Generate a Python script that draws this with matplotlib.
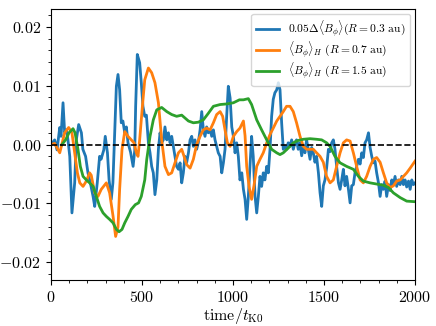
import matplotlib
matplotlib.use("Agg")
import matplotlib.pyplot as plt
from matplotlib.ticker import MultipleLocator, FuncFormatter

# --- data ---
t_blue = [0, 20, 33, 48, 55, 66, 75, 85, 93, 103, 115, 130, 139, 152, 167, 175, 190,
          203, 216, 231, 240, 254, 267, 275, 290, 298, 310, 319, 331, 340, 350, 359,
          368, 377, 386, 395, 405, 414, 423, 437, 451, 460, 465, 474, 487, 496, 505,
          515, 524, 535, 544, 553, 562, 571, 581, 590, 599, 608, 617, 626, 636, 645,
          654, 663, 672, 681, 690, 700, 709, 718, 727, 736, 745, 755, 764, 773, 782,
          791, 800, 809, 819, 828, 837, 846, 855, 864, 874, 883, 892, 901, 910, 919,
          929, 938, 947, 956, 965, 974, 984, 993, 1002, 1011, 1020, 1029, 1038, 1048,
          1057, 1066, 1075, 1084, 1093, 1102, 1111, 1121, 1130, 1139, 1148, 1157,
          1166, 1175, 1185, 1194, 1203, 1212, 1221, 1230, 1240, 1249, 1258, 1267,
          1276, 1285, 1294, 1303, 1312, 1322, 1331, 1340, 1349, 1358, 1367, 1377,
          1386, 1395, 1404, 1413, 1423, 1432, 1441, 1450, 1459, 1469, 1478, 1487,
          1496, 1505, 1514, 1524, 1533, 1542, 1551, 1560, 1569, 1579, 1588, 1597,
          1606, 1615, 1624, 1634, 1643, 1652, 1661, 1670, 1679, 1689, 1698, 1707,
          1716, 1725, 1734, 1744, 1753, 1762, 1771, 1780, 1789, 1799, 1808, 1817,
          1826, 1835, 1844, 1854, 1863, 1872, 1881, 1890, 1899, 1909, 1918, 1927,
          1936, 1945, 1954, 1964, 1973, 1982, 1991, 2000]
v_blue = [0.0, 0.0008, -0.0009, 0.0029, 0.0014, 0.0071, 0.002, 0.0025, 0.0008, -0.002,
          -0.0116, -0.0065, 0.0008, 0.0034, 0.002, -0.0008, -0.002,
          -0.0048, -0.0065, -0.0088, -0.0105, -0.0065, -0.002, -0.0025, -0.0009,
          0.0014, -0.0014, -0.006, -0.0093, -0.0065, 0.002, 0.0099,
          0.0119, 0.0093, 0.0037, 0.004, 0.002, 0.003, 0.0003, -0.0013, -0.0037,
          -0.001, 0.0065, 0.0153, 0.0139, 0.0105, 0.0065,
          0.0048, 0.005, 0.0003, -0.0014, -0.0037, -0.0048, -0.0085, -0.006, -0.0008,
          0.002, 0.0003, 0.0008, 0.003, 0.0008, 0.002,
          0.0003, 0.0014, -0.0003, -0.002, -0.0037, -0.0042, -0.0031, -0.0065, -0.0048,
          -0.002, -0.0031, -0.0014, 0.0008, 0.0014, -0.0003,
          0.0008, -0.0008, 0.0003, 0.0025, 0.0056, 0.0025, 0.0014, 0.003, 0.002,
          0.0025, 0.0014, 0.0025, 0.0008, -0.0003, -0.0014,
          -0.002, -0.0048, -0.0031, -0.0008, 0.0048, 0.0099, 0.0079, 0.003, 0.0014,
          -0.0014, 0.0003, -0.002, -0.006, -0.0048,
          -0.0076, -0.0093, -0.0127, -0.0088, -0.0037, 0.0014, -0.002, -0.0088,
          -0.0116, -0.0088, -0.0054, -0.0071,
          -0.0048, -0.006, -0.0037, -0.0048, -0.0008, 0.0048, 0.0077, 0.0088, 0.0093,
          0.0105, 0.0093, 0.0037,
          -0.0008, -0.0003, -0.0008, 0.0003, -0.0003, 0.0008, -0.0008, 0.0003, 0.0008,
          -0.0008, 0.0003, -0.0019,
          -0.0003, -0.0014, 0.0008, -0.0008, -0.0025, -0.0005, -0.0014, -0.003,
          -0.002, -0.0048, -0.0082, -0.0105,
          -0.007, -0.006, -0.004, -0.0008, -0.0012, 0.0003, 0.0008, -0.0008,
          -0.0037, -0.0065, -0.0076, -0.006,
          -0.0042, -0.007, -0.0054, -0.0076, -0.0099, -0.007, -0.0068, -0.0048,
          -0.0037, -0.0025, -0.0033, -0.0014,
          -0.0022, 0.0003, 0.0008, 0.002, -0.0005, -0.002, -0.0031, -0.0028,
          -0.0048, -0.0065, -0.0088, -0.0068,
          -0.0076, -0.0062, -0.0088, -0.0068, -0.0078, -0.006, -0.0068, -0.0054,
          -0.0071, -0.006, -0.0068, -0.0054,
          -0.0068, -0.006, -0.0072, -0.0062, -0.0076, -0.006, -0.0068, -0.0065]

t_orange = [0, 20, 48, 75, 97, 115, 130, 145, 158, 176, 194, 212, 221, 240, 258, 276,
            304, 322, 341, 355, 368, 377, 390, 405, 423, 441, 456, 469, 478, 487, 502,
            515, 535, 553, 571, 590, 608, 626, 645, 663, 681, 700, 718, 731, 745, 764,
            782, 800, 819, 837, 855, 874, 892, 910, 929, 943, 956, 969, 984, 1002,
            1020, 1038, 1057, 1066, 1075, 1088, 1102, 1115, 1130, 1148, 1166, 1185,
            1203, 1221, 1240, 1258, 1276, 1294, 1313, 1331, 1349, 1368, 1386, 1404,
            1423, 1441, 1459, 1478, 1496, 1514, 1533, 1551, 1569, 1588, 1606, 1624,
            1643, 1661, 1679, 1698, 1716, 1734, 1753, 1771, 1789, 1808, 1826, 1844,
            1863, 1881, 1899, 1918, 1936, 1954, 1973, 2000]
v_orange = [0.0, 0.0002, -0.0014, 0.002, 0.0029, 0.002, -0.0014, -0.0048, -0.0065,
            -0.0071, -0.0062, -0.0048, -0.0052, -0.0082, -0.0088, -0.0076,
            -0.0065, -0.0082, -0.0122, -0.0156, -0.014, -0.0076, -0.0008, 0.0022,
            0.0014, 0.0008, 0.0003, -0.0014, -0.002, 0.0008, 0.0065,
            0.011, 0.013, 0.0122, 0.0105, 0.0071, 0.0008, -0.0037, -0.0051, -0.0048,
            -0.0031, -0.0014, -0.0008, -0.002, -0.0034, -0.004,
            -0.0025, 0.0, 0.0014, 0.0025, 0.0028, 0.0025, 0.0037, 0.0051, 0.0056,
            0.0048, 0.0025, 0.0003, -0.0003, 0.0014,
            0.0022, 0.0028, 0.004, 0.0015, -0.0037, -0.0071, -0.0093, -0.007,
            -0.0037, -0.0025, -0.0014, 0.0003,
            0.0017, 0.0028, 0.004, 0.0048, 0.0056, 0.0065, 0.0065, 0.0056, 0.0037,
            0.0014, -0.0003, -0.0008,
            -0.0008, -0.0008, -0.0014, -0.002, -0.003, -0.0054, -0.0065, -0.006,
            -0.0037, -0.0014, 0.0003, 0.0008,
            0.0006, -0.0014, -0.0037, -0.006, -0.0065, -0.0054, -0.0037, -0.0025,
            -0.0022, -0.003, -0.0048, -0.0065,
            -0.0073, -0.007, -0.0062, -0.006, -0.0054, -0.0048, -0.004, -0.0028]

t_green = [60, 80, 99, 121, 132, 148, 161, 176, 194, 212, 231, 249, 267, 286, 304,
           322, 341, 359, 374, 390, 405, 423, 441, 463, 481, 496, 515, 526, 544,
           562, 581, 608, 636, 663, 690, 718, 755, 782, 809, 837, 864, 892, 929,
           965, 1002, 1035, 1057, 1084, 1102, 1130, 1157, 1185, 1212, 1240, 1258,
           1276, 1303, 1331, 1358, 1386, 1423, 1459, 1487, 1514, 1533, 1560, 1588,
           1624, 1661, 1689, 1716, 1753, 1789, 1826, 1854, 1881, 1918, 1954, 2000]
v_green = [0.0, 0.0008, 0.002, 0.0027, 0.002, -0.0008, -0.0037, -0.0054, -0.006,
           -0.0065, -0.0071, -0.0088, -0.0105, -0.0116, -0.0122,
           -0.0127, -0.0133, -0.0144, -0.0148, -0.0144, -0.0133, -0.0122, -0.011,
           -0.0102, -0.0099, -0.0088, -0.006, -0.0025, 0.0014,
           0.0042, 0.0059, 0.0063, 0.0056, 0.0051, 0.0048, 0.005, 0.004, 0.0037,
           0.0038, 0.0042, 0.0053, 0.0065, 0.0068,
           0.0069, 0.0071, 0.0076, 0.0076, 0.0078, 0.0068, 0.0042, 0.0025, 0.0008,
           -0.0008, -0.0014, -0.0017,
           -0.0014, -0.0006, 0.0003, 0.0007, 0.0009, 0.001, 0.0009, 0.0008, 0.0003,
           -0.0003, -0.002, -0.0031,
           -0.0037, -0.0042, -0.0054, -0.0062, -0.0065, -0.0067, -0.0069, -0.0073,
           -0.0082, -0.009, -0.0096, -0.0097]

label_blue = r'$0.05\Delta\langle B_\phi\rangle(R=0.3$ au$)$'
label_orange = r'$\langle B_\phi\rangle_H$ $(R=0.7$ au$)$'
label_green = r'$\langle B_\phi\rangle_H$ $(R=1.5$ au$)$'

# --- style: computer modern look ---
plt.rcParams['font.family'] = 'serif'
plt.rcParams['font.serif'] = ['cmr10', 'DejaVu Serif']
plt.rcParams['mathtext.fontset'] = 'cm'
plt.rcParams['axes.formatter.use_mathtext'] = True

fig = plt.figure(figsize=(4.36, 3.26), dpi=100)
ax = fig.add_axes([0.117, 0.141, 0.835, 0.831])

ax.plot(t_blue, v_blue, color='#1f77b4', lw=2.0, label=label_blue)
ax.plot(t_orange, v_orange, color='#ff7f0e', lw=2.0, label=label_orange)
ax.plot(t_green, v_green, color='#2ca02c', lw=2.0, label=label_green)
ax.axhline(0, color='black', ls='--', lw=1.2)

ax.set_xlim(0, 2000)
ax.set_ylim(-0.023, 0.023)
ax.xaxis.set_major_locator(MultipleLocator(500))
ax.xaxis.set_minor_locator(MultipleLocator(100))
ax.yaxis.set_major_locator(MultipleLocator(0.01))
ax.yaxis.set_minor_locator(MultipleLocator(0.002))
# pure math mode so the minus sign comes from cmsy
ax.xaxis.set_major_formatter(FuncFormatter(lambda v, p: r'$%d$' % v))
ax.yaxis.set_major_formatter(FuncFormatter(lambda v, p: r'$%.2f$' % (0 if abs(v) < 1e-9 else v)))
ax.tick_params(labelsize=11.5)
ax.set_xlabel(r'time$/t_{\rm K0}$', fontsize=11.5, labelpad=1)

ax.legend(loc='upper right', fontsize=8.3, handlelength=2.0, labelspacing=0.1,
          framealpha=0.8, borderaxespad=0.4)

fig.savefig('out.png', dpi=100)
